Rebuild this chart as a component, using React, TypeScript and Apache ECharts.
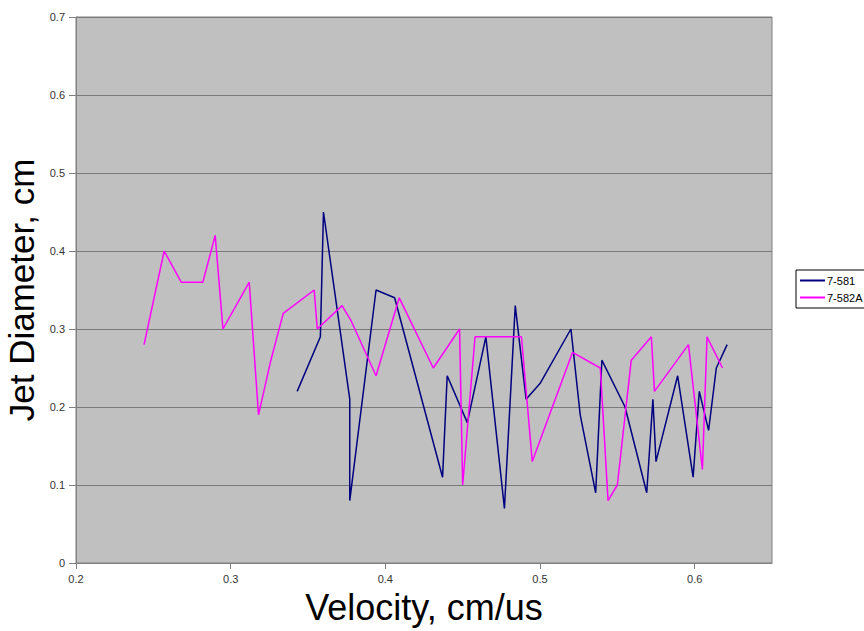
import React, { useEffect, useRef } from "react";
import * as echarts from "echarts";

const xTickLabels = ["0.2", "0.3", "0.4", "0.5", "0.6"];
const yTickLabels = ["0", "0.1", "0.2", "0.3", "0.4", "0.5", "0.6", "0.7"];

const series581Name = "7-581";
const series581: [number, number][] = [
  [0.343, 0.22], [0.358, 0.29], [0.360, 0.45], [0.377, 0.21], [0.377, 0.08],
  [0.394, 0.35], [0.406, 0.34], [0.437, 0.11], [0.440, 0.24], [0.453, 0.18],
  [0.465, 0.29], [0.477, 0.07], [0.484, 0.33], [0.491, 0.21], [0.500, 0.23],
  [0.520, 0.30], [0.526, 0.19], [0.536, 0.09], [0.540, 0.26], [0.555, 0.20],
  [0.569, 0.09], [0.573, 0.21], [0.575, 0.13], [0.589, 0.24], [0.599, 0.11],
  [0.603, 0.22], [0.609, 0.17], [0.614, 0.25], [0.621, 0.28],
];

const series582AName = "7-582A";
const series582A: [number, number][] = [
  [0.244, 0.28], [0.257, 0.40], [0.268, 0.36], [0.282, 0.36], [0.290, 0.42],
  [0.295, 0.30], [0.312, 0.36], [0.318, 0.19], [0.326, 0.26], [0.334, 0.32],
  [0.354, 0.35], [0.356, 0.30], [0.372, 0.33], [0.378, 0.31], [0.394, 0.24],
  [0.409, 0.34], [0.431, 0.25], [0.448, 0.30], [0.450, 0.10], [0.458, 0.29],
  [0.488, 0.29], [0.495, 0.13], [0.521, 0.27], [0.539, 0.25], [0.544, 0.08],
  [0.550, 0.10], [0.559, 0.26], [0.572, 0.29], [0.574, 0.22], [0.596, 0.28],
  [0.605, 0.12], [0.608, 0.29], [0.618, 0.25],
];

const xTitle = "Velocity, cm/us";
const yTitle = "Jet Diameter, cm";

export default function App() {
  const ref = useRef<HTMLDivElement>(null);
  useEffect(() => {
    if (!ref.current) return;
    const chart = echarts.init(ref.current, undefined, { renderer: "svg" });
    const font = "'Liberation Sans', Arial, sans-serif";
    chart.setOption({
      animation: false,
      textStyle: { fontFamily: font },
      grid: {
        left: 76,
        right: 92,
        top: 17,
        bottom: 68,
        outerBoundsMode: "none",
        containLabel: false,
        show: true,
        backgroundColor: "#c0c0c0",
        borderColor: "#808080",
        borderWidth: 1,
      },
      legend: {
        orient: "vertical",
        left: 796,
        top: 270,
        padding: [5, 4, 5, 4],
        itemGap: 6,
        itemWidth: 25,
        itemHeight: 2,
        icon: "rect",
        backgroundColor: "#ffffff",
        borderColor: "#000000",
        borderWidth: 1,
        borderRadius: 0,
        textStyle: { fontFamily: font, fontSize: 11, color: "#000", padding: [0, 0, 0, -3] },
        data: [series581Name, series582AName],
      },
      xAxis: {
        type: "value",
        min: 0.2,
        max: 0.65,
        interval: 0.1,
        name: xTitle,
        nameLocation: "middle",
        nameGap: 26,
        nameTextStyle: { fontFamily: font, fontSize: 36, color: "#000" },
        axisLine: { show: true, lineStyle: { color: "#808080", width: 1 } },
        axisTick: { show: true, length: 6, lineStyle: { color: "#808080" } },
        splitLine: { show: false },
        axisLabel: {
          fontFamily: font,
          fontSize: 11,
          color: "#333",
          margin: 10,
          showMaxLabel: false,
          formatter: (v: number) => {
            const s = v.toFixed(1);
            return xTickLabels.includes(s) ? s : "";
          },
        },
      },
      yAxis: {
        type: "value",
        min: 0,
        max: 0.7,
        interval: 0.1,
        name: yTitle,
        nameLocation: "middle",
        nameGap: 36,
        nameTextStyle: { fontFamily: font, fontSize: 35, color: "#000" },
        axisLine: { show: true, lineStyle: { color: "#808080", width: 1 } },
        axisTick: { show: true, length: 7, lineStyle: { color: "#808080" } },
        splitLine: { show: true, lineStyle: { color: "#7a7a7a", width: 1 } },
        axisLabel: {
          fontFamily: font,
          fontSize: 11,
          color: "#333",
          margin: 11,
          formatter: (v: number) => {
            const s = v === 0 ? "0" : v.toFixed(1);
            return yTickLabels.includes(s) ? s : "";
          },
        },
      },
      series: [
        {
          name: series581Name,
          type: "line",
          data: series581,
          symbol: "none",
          lineStyle: { color: "#000080", width: 1.5 },
          itemStyle: { color: "#000080" },
        },
        {
          name: series582AName,
          type: "line",
          data: series582A,
          symbol: "none",
          lineStyle: { color: "#ff00ff", width: 1.5 },
          itemStyle: { color: "#ff00ff" },
        },
      ],
    });
    return () => chart.dispose();
  }, []);
  return (
    <div
      ref={ref}
      style={{ position: "fixed", left: 0, top: 0, width: 864, height: 631, background: "#ffffff" }}
    />
  );
}
